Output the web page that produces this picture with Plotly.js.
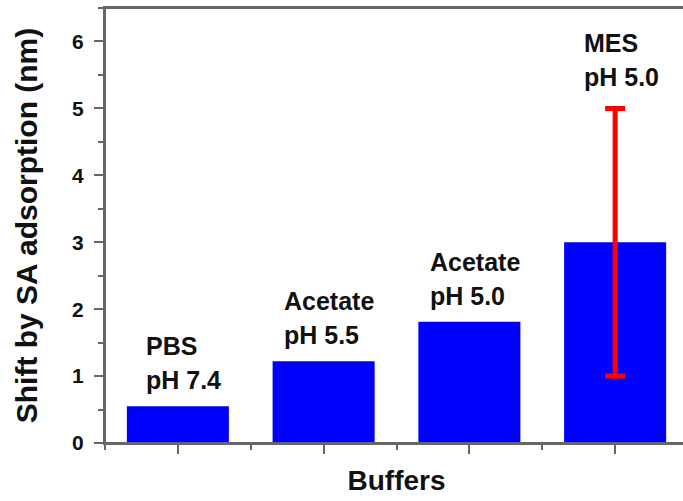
<!DOCTYPE html>
<html>
<head>
<meta charset="utf-8">
<script src="https://cdn.plot.ly/plotly-3.0.1.min.js"></script>
<style>
  html, body { margin: 0; padding: 0; overflow: hidden; background: #ffffff; }
  #chart { width: 700px; height: 501px; }
</style>
</head>
<body>
<div id="chart"></div>
<script>
// ---- data ----
const buffers = ['PBS', 'Acetate', 'Acetate', 'MES'];
const phLabels = ['pH 7.4', 'pH 5.5', 'pH 5.0', 'pH 5.0'];
const shiftNm = [0.55, 1.22, 1.81, 3.0];
const shiftErr = [null, null, null, 2.0];
const yTickVals = [0, 1, 2, 3, 4, 5, 6];

// ---- build ----
const xPos = buffers.map((_, i) => i + 1);
const errArr = shiftErr.map(e => (e === null ? NaN : e));

const FONT = 'Arial';
const AXC = '#666666';
const TXT = '#111111';
const LBL_SIZE = 25;

const barTrace = {
  type: 'bar', x: xPos, y: shiftNm, width: 0.7,
  marker: { color: '#0000ff' },
  error_y: { type: 'data', array: errArr, visible: true, color: '#ff0000', thickness: 5, width: 10 },
  hoverinfo: 'skip', showlegend: false
};

// two-line labels: left-aligned block centred on its bar
const cv = document.createElement('canvas').getContext('2d');
cv.font = 'bold ' + LBL_SIZE + 'px Arial, "Liberation Sans", sans-serif';
const annotations = [];
xPos.forEach((x, i) => {
  const w = Math.max(cv.measureText(buffers[i]).width, cv.measureText(phLabels[i]).width);
  const xs = -w / 2 + 4;
  const top = shiftNm[i] + (shiftErr[i] || 0);
  const base = shiftErr[i] ? 15 : 10;
  const common = {
    x: x, y: top, xref: 'x', yref: 'y', xanchor: 'left', yanchor: 'bottom',
    showarrow: false, xshift: xs, align: 'left',
    font: { family: FONT, size: LBL_SIZE, color: TXT, weight: 'bold' }
  };
  annotations.push(Object.assign({}, common, { text: phLabels[i], yshift: base }));
  annotations.push(Object.assign({}, common, { text: buffers[i], yshift: base + 34 }));
});

const layout = {
  width: 700, height: 501,
  margin: { l: 105, r: 12, t: 8, b: 58 },
  paper_bgcolor: '#ffffff', plot_bgcolor: '#ffffff',
  showlegend: false,
  xaxis: {
    range: [0.5, 4.5], showline: true, mirror: true, linecolor: AXC, linewidth: 2,
    showgrid: false, zeroline: false,
    tickvals: xPos, showticklabels: false,
    ticks: 'outside', ticklen: 9, tickwidth: 2, tickcolor: AXC,
    minor: { tick0: 0.5, dtick: 0.5, ticks: 'outside', ticklen: 5, tickwidth: 2, tickcolor: AXC },
    title: { text: 'Buffers', font: { family: FONT, size: 28, color: TXT, weight: 'bold' }, standoff: 17 }
  },
  yaxis: {
    range: [0, 6.5], showline: true, mirror: true, linecolor: AXC, linewidth: 2,
    showgrid: false, zeroline: false,
    tickvals: yTickVals,
    ticks: 'outside', ticklen: 9, tickwidth: 2, tickcolor: AXC,
    ticklabelstandoff: 6,
    tickfont: { family: FONT, size: 21, color: TXT, weight: 'bold' },
    minor: { tick0: 0, dtick: 0.5, ticks: 'outside', ticklen: 5, tickwidth: 2, tickcolor: AXC },
    title: { text: 'Shift by SA adsorption (nm)', font: { family: FONT, size: 30, color: TXT, weight: 'bold' }, standoff: 26 }
  },
  // plot frame (top / right edges of the box)
  shapes: [{
    type: 'rect', xref: 'paper', yref: 'paper', x0: 0, x1: 1, y0: 0, y1: 1,
    line: { color: AXC, width: 2 }, fillcolor: 'rgba(0,0,0,0)', layer: 'above'
  }],
  annotations: annotations
};

Plotly.newPlot('chart', [barTrace], layout, { displayModeBar: false, staticPlot: true });
</script>
</body>
</html>
